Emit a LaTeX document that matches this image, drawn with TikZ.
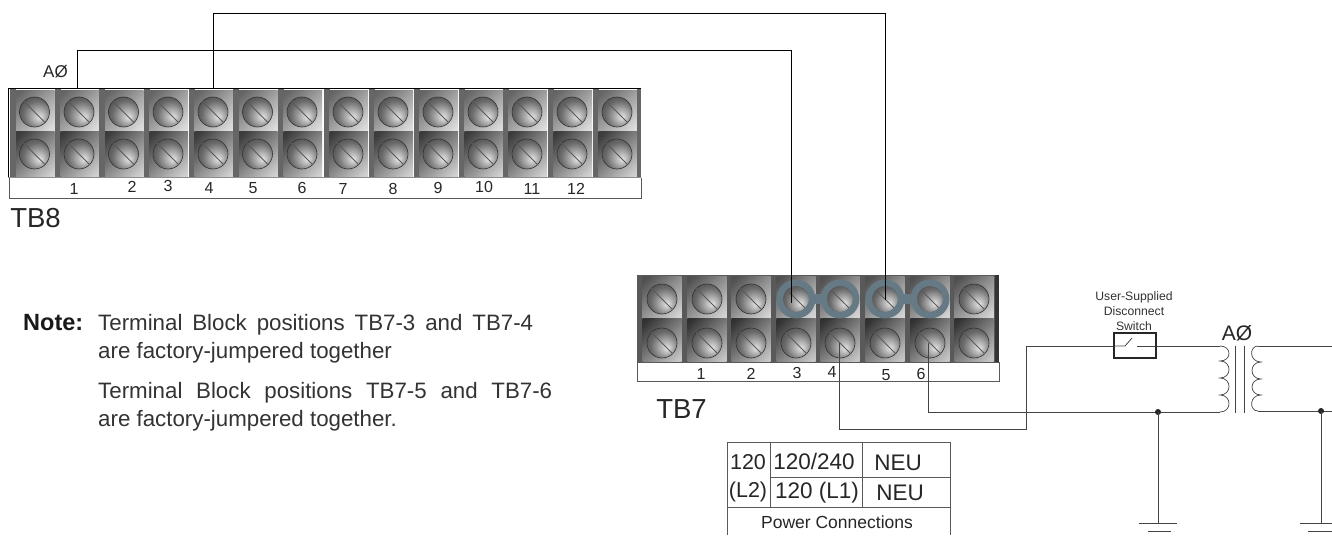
\documentclass[tikz,border=0pt]{standalone}
\usepackage{fontspec}
\setmainfont{Liberation Sans}
\usetikzlibrary{calc}
\pgfdeclareradialshading{screwshade}{\pgfpoint{9bp}{-9bp}}{%
 rgb(0bp)=(.90,.90,.90); rgb(10bp)=(.70,.70,.70); rgb(24bp)=(.42,.42,.42); rgb(40bp)=(.24,.24,.24); rgb(56bp)=(.14,.14,.14)}
\pgfdeclareverticalshading{blockupper}{100bp}{rgb(0bp)=(.93,.93,.93); rgb(20bp)=(.86,.86,.86); rgb(80bp)=(.40,.40,.40); rgb(100bp)=(.36,.36,.36)}
\pgfdeclareverticalshading{blocklower}{100bp}{rgb(0bp)=(.90,.90,.90); rgb(20bp)=(.80,.80,.80); rgb(80bp)=(.24,.24,.24); rgb(100bp)=(.20,.20,.20)}
\pgfdeclareverticalshading{terminalupper}{100bp}{rgb(0bp)=(.90,.90,.90); rgb(20bp)=(.82,.82,.82); rgb(80bp)=(.32,.32,.32); rgb(100bp)=(.28,.28,.28)}
\pgfdeclareverticalshading{terminallower}{100bp}{rgb(0bp)=(.88,.88,.88); rgb(20bp)=(.76,.76,.76); rgb(80bp)=(.20,.20,.20); rgb(100bp)=(.16,.16,.16)}
\newcommand\fsz[1]{\fontsize{#1}{#1}\selectfont}
\definecolor{wirecol}{HTML}{444444}
\definecolor{barcol}{HTML}{666666}
\definecolor{jump}{HTML}{667A86}
\tikzset{
 x=1pt,y=-1pt,
 screw/.style={circle,inner sep=0pt,minimum size=30pt,shade,shading=screwshade,draw=black!80,line width=.6pt},
 slot/.style={draw=black!65,line width=.9pt},
 wire/.style={draw=wirecol,line width=.8pt},
 thin wire/.style={draw=black,line width=.7pt},
 lbl/.style={inner sep=0pt,text=black!85},
 sqa/.style={shade,shading angle=45,shading=blockupper},
 sqb/.style={shade,shading angle=45,shading=blocklower},
 sqc/.style={shade,shading angle=45,shading=terminalupper},
 sqd/.style={shade,shading angle=45,shading=terminallower},
 ring/.style={draw=jump,line width=6.5pt,circle,inner sep=0pt,minimum size=32.4pt},
 tablerule/.style={draw=black!65,line width=1pt},
 notetext/.style={lbl,anchor=base west,font=\fsz{22.3},text=black!80},
}
\begin{document}
\begin{tikzpicture}
\useasboundingbox (0,0) rectangle (1332,535);
\fill[white] (0,0) rectangle (1332,535);
% ---------- TB8 ----------
\foreach \i/\cx in {1/34.5,2/79,3/123.5,4/168,5/213,6/257.5,7/302,8/348,9/393,10/438,11/483,12/527,13/572,14/617}{
  \fill[barcol] (\cx-24.5,89) rectangle (\cx-18.5,177);
  \path[sqa] (\cx-18.5,90) rectangle (\cx+20,131);
  \path[sqb] (\cx-18.5,131) rectangle (\cx+20,176);
  \node[screw] (a\i) at (\cx,112) {};
  \node[screw] (b\i) at (\cx,154) {};
  \draw[slot] (a\i.135) -- (a\i.-45);
  \draw[slot] (b\i.135) -- (b\i.-45);
}
\fill[barcol] (637,89) rectangle (641,177);
\draw[black,line width=.9pt] (8,177) -- (8,88) -- (641,88);
\draw[black!45,line width=1.4pt] (8,177.5) -- (641,177.5);
\draw[black!65,line width=1pt] (9,178) -- (9,198.5) -- (641.5,198.5) -- (641.5,178);
\foreach \t/\x/\y in {1/74/189,2/132/187,3/168/186,4/209/188,5/253/188,6/302/188,7/343/189,8/393/189,9/438/188,10/484/187,11/532/189,12/576/189}{
  \node[lbl,font=\fsz{16}] (ln\t) at (\x,\y) {\t};
}
\node[lbl,font=\fsz{27.5}] (tbeight) at (35.5,218) {TB8};
\node[lbl,font=\fsz{17}] (aleft) at (55.5,72) {AØ};
% ---------- TB7 ----------
\fill[black!65] (637,275) rectangle (999,362);
\fill[black!80] (995,275) rectangle (999,362);
\foreach \i/\cx in {1/662,2/707,3/751,4/796,5/840,6/885,7/930,8/974}{
  \path[sqc] (\cx-19.5,276) rectangle (\cx+19.5,318);
  \path[sqd] (\cx-19.5,318) rectangle (\cx+19.5,361);
  \node[screw] (c\i) at (\cx,299) {};
  \node[screw] (d\i) at (\cx,343) {};
  \draw[slot] (c\i.135) -- (c\i.-45);
  \draw[slot] (d\i.135) -- (d\i.-45);
}
\draw[black!65,line width=1pt] (637,362) -- (637,381.5) -- (999,381.5) -- (999,362);
\draw[black!65,line width=1pt] (637,362) -- (999,362);
\foreach \t/\x/\y in {1/701/374,2/751/374,3/797/373,4/832/372,5/886/375,6/921/374}{
  \node[lbl,font=\fsz{16}] (mn\t) at (\x,\y) {\t};
}
\node[lbl,font=\fsz{27.5}] (tbseven) at (681.5,409) {TB7};
% jumpers
\foreach \p/\q in {4/5,6/7}{
  \draw[jump,line width=10pt] (c\p.center) -- (c\q.center);
}
\foreach \i in {4,5,6,7}{
  \node[screw,minimum size=27pt] (r\i) at (c\i) {};
  \draw[slot] (r\i.135) -- (r\i.-45);
  \node[ring] at (c\i) {};
}
% ---------- coordinates ----------
\coordinate (ta) at (77,88);
\coordinate (tb) at (213,88);
\coordinate (ea) at (791,303);
\coordinate (eb) at (885,300);
\coordinate (w4) at (839,343);
\coordinate (w6) at (928,343);
\coordinate (riser) at (1026,429);
\coordinate (swl) at (1114,346);
\coordinate (swr) at (1156,346);
\coordinate (pt) at (1220,346);
\coordinate (pb) at (1220,412);
\coordinate (st) at (1258,346);
\coordinate (sb) at (1258,411);
\coordinate (j1) at (1158,412);
\coordinate (j2) at (1321,411);
\coordinate (g1) at (1158,523);
\coordinate (g2) at (1321,523);
% wires
\draw[thin wire] (ta) -- (77,50) -- (791,50) -- (ea);
\draw[thin wire] (tb) -- (213,13) -- (885,13) -- (eb);
\draw[wire] (w4) -- (839,429) -- (riser) -- (1026,346) -- (swl);
\draw[wire] (w6) -- (928,412) -- (pb);
\draw[wire] (swr) -- (pt);
\draw[wire] (st) -- (1332,346);
\draw[wire] (sb) -- (1332,411);
% switch
\node[draw=black!85,line width=1.3pt,inner sep=0pt,minimum width=42pt,minimum height=25pt] (sw) at (1135,345.5) {};
\draw[wire] (swl) -- (1125,346) -- (1132,338);
\draw[wire] (1137,346) -- (swr);
\node[lbl,font=\fsz{12.2},align=center,text=black!80] (swlab) at (1134,311) {User-Supplied\\[3pt]Disconnect\\[3pt]Switch};
% transformer
\draw[wire,line width=.7pt] (pt) .. controls (1232,346) and (1232,361) .. (1220,361)
  .. controls (1232,361) and (1232,378) .. (1220,378)
  .. controls (1232,378) and (1232,395) .. (1220,395)
  .. controls (1232,395) and (1232,412) .. (pb);
\draw[wire,line width=.7pt] (st) .. controls (1249,346) and (1249,362) .. (1261,362)
  .. controls (1249,362) and (1249,379) .. (1261,379)
  .. controls (1249,379) and (1249,395) .. (1261,395)
  .. controls (1249,395) and (1249,411) .. (sb);
\coordinate (k1) at (1235,346); \coordinate (k2) at (1244,346);
\draw[wire,line width=.7pt] (k1) -- (1235,413);
\draw[wire,line width=.7pt] (k2) -- (1244,413);
\node[lbl,font=\fsz{21}] (aright) at (1237,333) {AØ};
% grounds
\fill[black!85] (j1) circle (3pt);
\fill[black!85] (j2) circle (3pt);
\draw[wire] (j1) -- (g1);
\draw[wire] (j2) -- (g2);
\draw[wire] (1139,523) -- (1177,523);
\draw[wire] (1148,531) -- (1171,531);
\draw[wire] (1300,523) -- (1332,523);
\draw[wire] (1308,531) -- (1332,531);
% ---------- table ----------
\draw[tablerule] (727,535) -- (727,442) -- (950,442) -- (950,535);
\draw[tablerule] (770,442) -- (770,507);
\draw[tablerule] (862,442) -- (862,507);
\draw[tablerule] (770,477) -- (950,477);
\draw[tablerule] (727,507) -- (950,507);
\node[lbl,font=\fsz{21.5}] (t1) at (748,462) {120};
\node[lbl,font=\fsz{21.5}] (t2) at (748,492) {(L2)};
\node[lbl,font=\fsz{22.5}] (t3) at (814,461) {120/240};
\node[lbl,font=\fsz{22.5}] (t4) at (817,493) {120 (L1)};
\node[lbl,font=\fsz{22.5}] (t5) at (898,463) {NEU};
\node[lbl,font=\fsz{22.5}] (t6) at (900,493) {NEU};
\node[lbl,font=\fsz{17.5}] (t7) at (837,522) {Power Connections};
% ---------- note ----------
\node[lbl,anchor=base west,font=\fsz{23.5}\bfseries,text=black!90] (nh) at (23,330) {Note:};
\node[notetext] (n1) at (98,330.5) {\makebox[435pt][s]{Terminal Block positions TB7-3 and TB7-4}};
\node[notetext] (n2) at (98,358.5) {are factory-jumpered together};
\node[notetext] (n3) at (98,398.5) {\makebox[454pt][s]{Terminal Block positions TB7-5 and TB7-6}};
\node[notetext] (n4) at (98,426.5) {are factory-jumpered together.};
\end{tikzpicture}
\end{document}
